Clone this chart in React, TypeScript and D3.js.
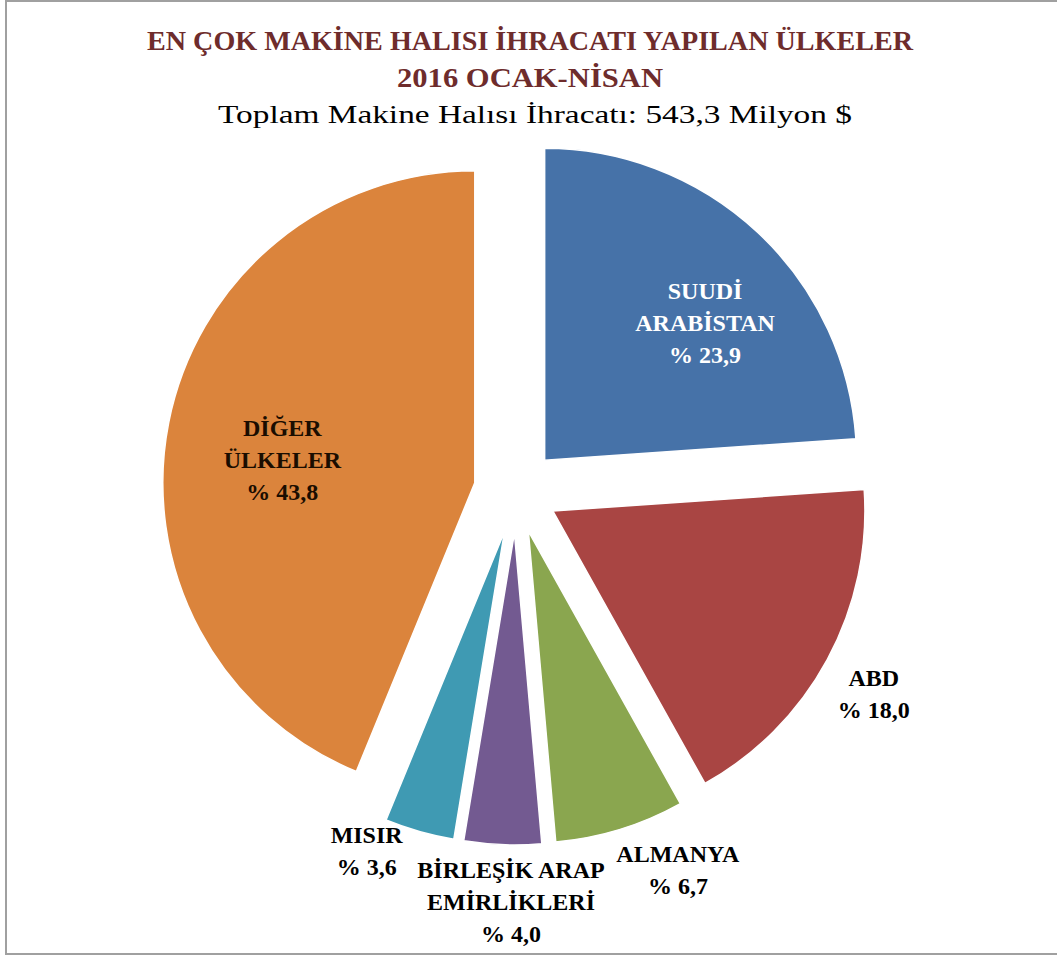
import React, { useRef, useEffect } from "react";
import * as d3 from "d3";

// payları (%)
const countryLines = [
  ["SUUDİ", "ARABİSTAN"],
  ["ABD"],
  ["ALMANYA"],
  ["BİRLEŞİK ARAP", "EMİRLİKLERİ"],
  ["MISIR"],
  ["DİĞER", "ÜLKELER"],
];
const shares = [23.9, 18.0, 6.7, 4.0, 3.6, 43.8];
const shareLabels = ["% 23,9", "% 18,0", "% 6,7", "% 4,0", "% 3,6", "% 43,8"];
const sliceColors = ["#4672a8", "#a94543", "#8aa64f", "#735a91", "#3f9ab3", "#db843c"];
const labelColors = ["#ffffff", "#000000", "#000000", "#000000", "#000000", "#1a0d00"];

const titleLines = ["EN ÇOK MAKİNE HALISI İHRACATI YAPILAN ÜLKELER", "2016 OCAK-NİSAN"];
const subtitle = "Toplam Makine Halısı İhracatı:  543,3 Milyon $";

const App = () => {
  const svgRef = useRef<SVGSVGElement>(null);

  useEffect(() => {
    const width = 1057;
    const height = 958;
    const cx = 516;
    const cy = 491;
    const radius = 312;
    const explode = 42;
    const font = "'Liberation Serif', 'DejaVu Serif', serif";

    const svg = d3
      .select(svgRef.current)
      .attr("width", width)
      .attr("height", height)
      .html("");

    svg
      .append("rect")
      .attr("x", 6)
      .attr("y", 1)
      .attr("width", 1070)
      .attr("height", 953)
      .attr("fill", "#fff")
      .attr("stroke", "#a0a0a0")
      .attr("stroke-width", 2);

    // başlık
    svg
      .append("text")
      .attr("x", 530)
      .attr("y", 50)
      .attr("text-anchor", "middle")
      .attr("font-family", font)
      .attr("font-weight", "bold")
      .attr("font-size", 27)
      .attr("fill", "#6e2c2c")
      .attr("textLength", 766)
      .attr("lengthAdjust", "spacingAndGlyphs")
      .text(titleLines[0]);
    svg
      .append("text")
      .attr("x", 530)
      .attr("y", 87)
      .attr("text-anchor", "middle")
      .attr("font-family", font)
      .attr("font-weight", "bold")
      .attr("font-size", 27)
      .attr("fill", "#6e2c2c")
      .attr("textLength", 266)
      .attr("lengthAdjust", "spacingAndGlyphs")
      .text(titleLines[1]);
    svg
      .append("text")
      .attr("x", 535)
      .attr("y", 123)
      .attr("text-anchor", "middle")
      .attr("font-family", font)
      .attr("font-size", 26)
      .attr("fill", "#000")
      .attr("textLength", 634)
      .attr("lengthAdjust", "spacingAndGlyphs")
      .text(subtitle);

    const pie = d3.pie<number>().sort(null).value((d) => d);
    const arcs = pie(shares);
    const arc = d3.arc<d3.PieArcDatum<number>>().innerRadius(0).outerRadius(radius);

    const g = svg.append("g").attr("transform", `translate(${cx},${cy})`);

    type Box = { t: any; x: number; y: number; w: number; h: number; bx: number; by: number; out: boolean };
    const boxes: Box[] = [];

    arcs.forEach((a, i) => {
      const mid = (a.startAngle + a.endAngle) / 2;
      const sx = Math.sin(mid);
      const sy = -Math.cos(mid);
      const ox = sx * explode;
      const oy = sy * explode;

      g.append("path")
        .attr("d", arc(a))
        .attr("transform", `translate(${ox},${oy})`)
        .attr("fill", sliceColors[i])
        .attr("stroke", "#fff")
        .attr("stroke-width", 1.5);

      // etiketler
      const lines = [...countryLines[i], shareLabels[i]];
      const t = g
        .append("text")
        .attr("font-family", font)
        .attr("font-weight", "bold")
        .attr("font-size", 24)
        .attr("fill", labelColors[i])
        .attr("text-anchor", "middle");
      lines.forEach((l, k) => {
        t.append("tspan").attr("x", 0).attr("y", k * 32).text(l);
      });
      const bb = (t.node() as SVGTextElement).getBBox();
      const w = bb.width;
      const h = bb.height;

      let px: number;
      let py: number;
      const out = a.data < 20;
      if (!out) {
        const rr = radius * 0.68;
        px = ox + sx * rr + 16;
        py = oy + sy * rr + 18;
      } else {
        const rr = radius + 12;
        const fx = Math.max(-1, Math.min(1, sx * 3));
        const fy = Math.max(-1, Math.min(1, sy * 3));
        px = ox + sx * rr + (fx * w) / 2;
        py = oy + sy * rr + (fy * h) / 2;
      }
      boxes.push({ t, x: px, y: py, w, h, bx: bb.x + w / 2, by: bb.y + h / 2, out });
    });

    // çakışan dış etiketleri ayır
    for (let i = 0; i < boxes.length - 1; i++) {
      const a = boxes[i];
      const b = boxes[i + 1];
      if (!a.out || !b.out) continue;
      const overlapY = Math.abs(a.y - b.y) < (a.h + b.h) / 2;
      const left = a.x < b.x ? a : b;
      const right = a.x < b.x ? b : a;
      const overlapX = left.x + left.w / 2 + 14 - (right.x - right.w / 2);
      if (overlapY && overlapX > 0) {
        left.x -= overlapX / 2;
        right.x += overlapX / 2;
        // daha küçük etiketi yukarı kaydır
        const small = left.h < right.h ? left : right;
        small.y -= overlapX * 0.55;
      }
    }

    boxes.forEach((b) => {
      b.t.attr("transform", `translate(${b.x - b.bx},${b.y - b.by})`);
    });
  }, []);

  return (
    <div style={{ position: "absolute", left: 0, top: 0 }}>
      <svg ref={svgRef} style={{ display: "block" }} />
    </div>
  );
};

export default App;
